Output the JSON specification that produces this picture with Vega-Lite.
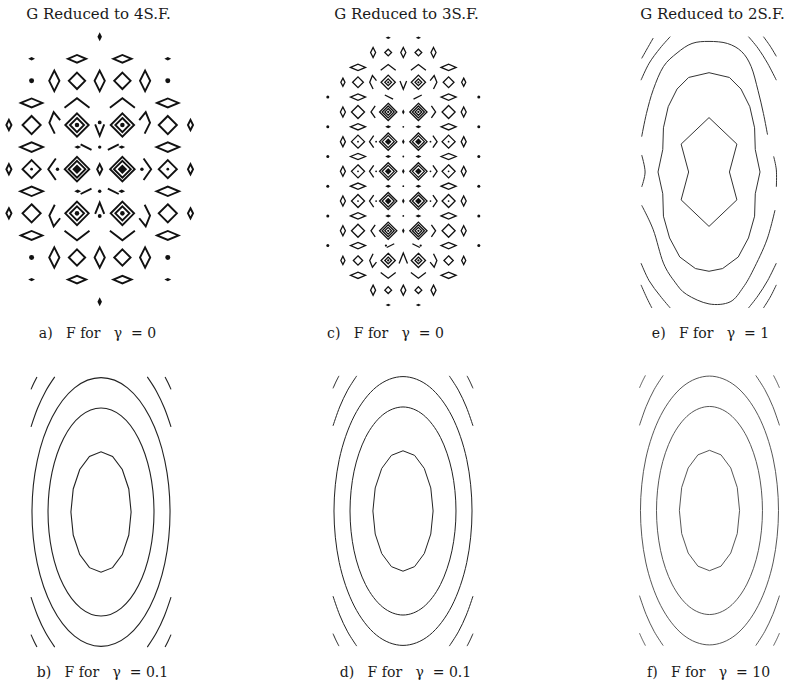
{
"$schema": "https://vega.github.io/schema/vega-lite/v6.json",
"background": "white",
"padding": 0,
"config": {
  "view": {"stroke": null},
  "axis": {"domain": false, "ticks": false, "labels": false, "grid": false, "titleFont": "DejaVu Serif", "titleFontSize": 14, "titleFontWeight": "normal", "titleColor": "#1a1a1a", "titleBaseline": "alphabetic", "titleAlign": "center"},
  "title": {"font": "DejaVu Serif", "fontSize": 15, "fontWeight": "normal", "color": "#1a1a1a"}
},
"datasets": {
"gA": [
{"x":0,"y":6,"k":"fT","s":0.4},
{"x":-3,"y":5,"k":"fW","s":0.3},{"x":-1,"y":5,"k":"W","s":0.8},{"x":1,"y":5,"k":"W","s":0.8},{"x":3,"y":5,"k":"fW","s":0.3},
{"x":-3,"y":4,"k":"fC","s":0.22},{"x":-2,"y":4,"k":"T","s":0.9},{"x":-1,"y":4,"k":"D","s":0.72},{"x":0,"y":4,"k":"T","s":0.9},{"x":1,"y":4,"k":"D","s":0.72},{"x":2,"y":4,"k":"T","s":0.9},{"x":3,"y":4,"k":"fC","s":0.22},
{"x":-3,"y":3,"k":"W","s":0.95},{"x":-1,"y":3,"k":"up","s":1.1},{"x":1,"y":3,"k":"up","s":1.1},{"x":3,"y":3,"k":"W","s":0.95},
{"x":-4,"y":2,"k":"T","s":0.45},{"x":-3,"y":2,"k":"D","s":0.8},{"x":-1.98,"y":2.1,"k":"ltU","s":0.95},{"x":-1,"y":2,"k":"D","s":1.03},{"x":-1,"y":2,"k":"D","s":0.62},{"x":-1,"y":2,"k":"fC","s":0.2},{"x":0,"y":1.77,"k":"V","s":0.5},{"x":0,"y":2.12,"k":"fC","s":0.17},{"x":1,"y":2,"k":"D","s":1.03},{"x":1,"y":2,"k":"D","s":0.62},{"x":1,"y":2,"k":"fC","s":0.2},{"x":1.98,"y":2.1,"k":"gtU","s":0.95},{"x":3,"y":2,"k":"D","s":0.8},{"x":4,"y":2,"k":"T","s":0.45},
{"x":-3,"y":1,"k":"W","s":1.0},{"x":-0.97,"y":1,"k":"fW","s":0.3},{"x":-0.6,"y":1,"k":"bs","s":0.48},{"x":0,"y":1,"k":"fC","s":0.15},{"x":0.6,"y":1,"k":"sl","s":0.48},{"x":0.97,"y":1,"k":"fW","s":0.3},{"x":3,"y":1,"k":"W","s":1.0},
{"x":-4,"y":0,"k":"T","s":0.45},{"x":-3,"y":0,"k":"D","s":0.8},{"x":-3,"y":0,"k":"fC","s":0.12},{"x":-2.1,"y":0,"k":"lt","s":0.95},{"x":-1.86,"y":0,"k":"fC","s":0.15},{"x":-1,"y":0,"k":"D","s":1.08},{"x":-1,"y":0,"k":"D","s":0.74},{"x":-1,"y":0,"k":"fD","s":0.42},{"x":0,"y":0,"k":"T","s":0.45},{"x":1,"y":0,"k":"D","s":1.08},{"x":1,"y":0,"k":"D","s":0.74},{"x":1,"y":0,"k":"fD","s":0.42},{"x":1.86,"y":0,"k":"fC","s":0.15},{"x":2.1,"y":0,"k":"gt","s":0.95},{"x":3,"y":0,"k":"D","s":0.8},{"x":3,"y":0,"k":"fC","s":0.12},{"x":4,"y":0,"k":"T","s":0.45},
{"x":-3,"y":-1,"k":"W","s":1.0},{"x":-0.97,"y":-1,"k":"fW","s":0.3},{"x":-0.6,"y":-1,"k":"sl","s":0.48},{"x":0,"y":-1,"k":"fC","s":0.15},{"x":0.6,"y":-1,"k":"bs","s":0.48},{"x":0.97,"y":-1,"k":"fW","s":0.3},{"x":3,"y":-1,"k":"W","s":1.0},
{"x":-4,"y":-2,"k":"T","s":0.45},{"x":-3,"y":-2,"k":"D","s":0.8},{"x":-1.98,"y":-2.1,"k":"ltD","s":0.95},{"x":-1,"y":-2,"k":"D","s":1.03},{"x":-1,"y":-2,"k":"D","s":0.62},{"x":-1,"y":-2,"k":"fC","s":0.2},{"x":0,"y":-1.77,"k":"A","s":0.5},{"x":0,"y":-2.12,"k":"fC","s":0.17},{"x":1,"y":-2,"k":"D","s":1.03},{"x":1,"y":-2,"k":"D","s":0.62},{"x":1,"y":-2,"k":"fC","s":0.2},{"x":1.98,"y":-2.1,"k":"gtD","s":0.95},{"x":3,"y":-2,"k":"D","s":0.8},{"x":4,"y":-2,"k":"T","s":0.45},
{"x":-3,"y":-3,"k":"W","s":0.95},{"x":-1,"y":-3,"k":"down","s":1.1},{"x":1,"y":-3,"k":"down","s":1.1},{"x":3,"y":-3,"k":"W","s":0.95},
{"x":-3,"y":-4,"k":"fC","s":0.22},{"x":-2,"y":-4,"k":"T","s":0.9},{"x":-1,"y":-4,"k":"D","s":0.72},{"x":0,"y":-4,"k":"T","s":0.9},{"x":1,"y":-4,"k":"D","s":0.72},{"x":2,"y":-4,"k":"T","s":0.9},{"x":3,"y":-4,"k":"fC","s":0.22},
{"x":-3,"y":-5,"k":"fW","s":0.3},{"x":-1,"y":-5,"k":"W","s":0.8},{"x":1,"y":-5,"k":"W","s":0.8},{"x":3,"y":-5,"k":"fW","s":0.3},
{"x":0,"y":-6,"k":"fT","s":0.4}
],
"gC": [
{"x":-1,"y":9,"k":"fW","s":0.35},{"x":1,"y":9,"k":"fW","s":0.35},
{"x":-2,"y":8,"k":"T","s":0.67},{"x":-1,"y":8,"k":"D","s":0.45},{"x":0,"y":8,"k":"T","s":0.67},{"x":1,"y":8,"k":"D","s":0.45},{"x":2,"y":8,"k":"T","s":0.67},
{"x":-3,"y":7,"k":"W","s":1.0},{"x":-1,"y":7,"k":"up","s":1.0},{"x":1,"y":7,"k":"up","s":1.0},{"x":3,"y":7,"k":"W","s":1.0},
{"x":-4,"y":6,"k":"T","s":0.55},{"x":-3,"y":6,"k":"D","s":0.72},{"x":-2,"y":6,"k":"ltU","s":0.9},{"x":-1,"y":6,"k":"D","s":0.95},{"x":-1,"y":6,"k":"D","s":0.45},{"x":-1,"y":6,"k":"fC","s":0.15},{"x":0,"y":5.8,"k":"V","s":0.55},{"x":1,"y":6,"k":"D","s":0.95},{"x":1,"y":6,"k":"D","s":0.45},{"x":1,"y":6,"k":"fC","s":0.15},{"x":2,"y":6,"k":"gtU","s":0.9},{"x":3,"y":6,"k":"D","s":0.72},{"x":4,"y":6,"k":"T","s":0.55},
{"x":-5,"y":5,"k":"fC","s":0.2},{"x":-3,"y":5,"k":"W","s":1.0},{"x":-0.95,"y":5,"k":"bs","s":0.55},{"x":0.95,"y":5,"k":"sl","s":0.55},{"x":3,"y":5,"k":"W","s":1.0},{"x":5,"y":5,"k":"fC","s":0.2},
{"x":-4,"y":4,"k":"T","s":0.67},{"x":-3,"y":4,"k":"D","s":0.87},{"x":-2,"y":4,"k":"lt","s":0.8},{"x":-1,"y":4,"k":"D","s":1.15},{"x":-1,"y":4,"k":"D","s":0.8},{"x":-1,"y":4,"k":"D","s":0.45},{"x":-1,"y":4,"k":"fC","s":0.15},{"x":0,"y":4,"k":"fT","s":0.35},{"x":1,"y":4,"k":"D","s":1.15},{"x":1,"y":4,"k":"D","s":0.8},{"x":1,"y":4,"k":"D","s":0.45},{"x":1,"y":4,"k":"fC","s":0.15},{"x":2,"y":4,"k":"gt","s":0.8},{"x":3,"y":4,"k":"D","s":0.87},{"x":4,"y":4,"k":"T","s":0.67},
{"x":-5,"y":3,"k":"fC","s":0.2},{"x":-3,"y":3,"k":"W","s":1.0},{"x":-1,"y":3,"k":"fW","s":0.4},{"x":0,"y":3,"k":"fC","s":0.12},{"x":1,"y":3,"k":"fW","s":0.4},{"x":3,"y":3,"k":"W","s":1.0},{"x":5,"y":3,"k":"fC","s":0.2},
{"x":-4,"y":2,"k":"T","s":0.67},{"x":-3,"y":2,"k":"D","s":0.87},{"x":-3,"y":2,"k":"fC","s":0.12},{"x":-2.1,"y":2,"k":"lt","s":0.8},{"x":-1.8,"y":2,"k":"fC","s":0.12},{"x":-1,"y":2,"k":"D","s":1.15},{"x":-1,"y":2,"k":"D","s":0.8},{"x":-1,"y":2,"k":"fD","s":0.45},{"x":0,"y":2,"k":"fT","s":0.35},{"x":1,"y":2,"k":"D","s":1.15},{"x":1,"y":2,"k":"D","s":0.8},{"x":1,"y":2,"k":"fD","s":0.45},{"x":1.8,"y":2,"k":"fC","s":0.12},{"x":2.1,"y":2,"k":"gt","s":0.8},{"x":3,"y":2,"k":"D","s":0.87},{"x":3,"y":2,"k":"fC","s":0.12},{"x":4,"y":2,"k":"T","s":0.67},
{"x":-5,"y":1,"k":"fC","s":0.2},{"x":-3,"y":1,"k":"W","s":1.0},{"x":-1,"y":1,"k":"fW","s":0.4},{"x":0,"y":1,"k":"fC","s":0.12},{"x":1,"y":1,"k":"fW","s":0.4},{"x":3,"y":1,"k":"W","s":1.0},{"x":5,"y":1,"k":"fC","s":0.2},
{"x":-4,"y":0,"k":"T","s":0.67},{"x":-3,"y":0,"k":"D","s":0.87},{"x":-3,"y":0,"k":"fC","s":0.12},{"x":-2.1,"y":0,"k":"lt","s":0.8},{"x":-1.8,"y":0,"k":"fC","s":0.12},{"x":-1,"y":0,"k":"D","s":1.15},{"x":-1,"y":0,"k":"D","s":0.8},{"x":-1,"y":0,"k":"fD","s":0.45},{"x":0,"y":0,"k":"fT","s":0.35},{"x":1,"y":0,"k":"D","s":1.15},{"x":1,"y":0,"k":"D","s":0.8},{"x":1,"y":0,"k":"fD","s":0.45},{"x":1.8,"y":0,"k":"fC","s":0.12},{"x":2.1,"y":0,"k":"gt","s":0.8},{"x":3,"y":0,"k":"D","s":0.87},{"x":3,"y":0,"k":"fC","s":0.12},{"x":4,"y":0,"k":"T","s":0.67},
{"x":-5,"y":-1,"k":"fC","s":0.2},{"x":-3,"y":-1,"k":"W","s":1.0},{"x":-1,"y":-1,"k":"fW","s":0.4},{"x":0,"y":-1,"k":"fC","s":0.12},{"x":1,"y":-1,"k":"fW","s":0.4},{"x":3,"y":-1,"k":"W","s":1.0},{"x":5,"y":-1,"k":"fC","s":0.2},
{"x":-4,"y":-2,"k":"T","s":0.67},{"x":-3,"y":-2,"k":"D","s":0.87},{"x":-3,"y":-2,"k":"fC","s":0.12},{"x":-2.1,"y":-2,"k":"lt","s":0.8},{"x":-1.8,"y":-2,"k":"fC","s":0.12},{"x":-1,"y":-2,"k":"D","s":1.15},{"x":-1,"y":-2,"k":"D","s":0.8},{"x":-1,"y":-2,"k":"fD","s":0.45},{"x":0,"y":-2,"k":"fT","s":0.35},{"x":1,"y":-2,"k":"D","s":1.15},{"x":1,"y":-2,"k":"D","s":0.8},{"x":1,"y":-2,"k":"fD","s":0.45},{"x":1.8,"y":-2,"k":"fC","s":0.12},{"x":2.1,"y":-2,"k":"gt","s":0.8},{"x":3,"y":-2,"k":"D","s":0.87},{"x":3,"y":-2,"k":"fC","s":0.12},{"x":4,"y":-2,"k":"T","s":0.67},
{"x":-5,"y":-3,"k":"fC","s":0.2},{"x":-3,"y":-3,"k":"W","s":1.0},{"x":-1,"y":-3,"k":"fW","s":0.4},{"x":0,"y":-3,"k":"fC","s":0.12},{"x":1,"y":-3,"k":"fW","s":0.4},{"x":3,"y":-3,"k":"W","s":1.0},{"x":5,"y":-3,"k":"fC","s":0.2},
{"x":-4,"y":-4,"k":"T","s":0.67},{"x":-3,"y":-4,"k":"D","s":0.87},{"x":-2,"y":-4,"k":"lt","s":0.8},{"x":-1,"y":-4,"k":"D","s":1.15},{"x":-1,"y":-4,"k":"D","s":0.8},{"x":-1,"y":-4,"k":"D","s":0.45},{"x":-1,"y":-4,"k":"fC","s":0.15},{"x":0,"y":-4,"k":"fT","s":0.35},{"x":1,"y":-4,"k":"D","s":1.15},{"x":1,"y":-4,"k":"D","s":0.8},{"x":1,"y":-4,"k":"D","s":0.45},{"x":1,"y":-4,"k":"fC","s":0.15},{"x":2,"y":-4,"k":"gt","s":0.8},{"x":3,"y":-4,"k":"D","s":0.87},{"x":4,"y":-4,"k":"T","s":0.67},
{"x":-5,"y":-5,"k":"fC","s":0.2},{"x":-3,"y":-5,"k":"W","s":1.0},{"x":-1.15,"y":-5,"k":"fC","s":0.15},{"x":-0.85,"y":-5,"k":"sl","s":0.5},{"x":0.85,"y":-5,"k":"bs","s":0.5},{"x":1.15,"y":-5,"k":"fC","s":0.15},{"x":3,"y":-5,"k":"W","s":1.0},{"x":5,"y":-5,"k":"fC","s":0.2},
{"x":-4,"y":-6,"k":"T","s":0.55},{"x":-3,"y":-6,"k":"D","s":0.62},{"x":-2,"y":-6,"k":"ltD","s":0.9},{"x":-1,"y":-6,"k":"D","s":0.95},{"x":-1,"y":-6,"k":"D","s":0.45},{"x":-1,"y":-6,"k":"fC","s":0.15},{"x":0,"y":-5.85,"k":"A","s":0.7},{"x":1,"y":-6,"k":"D","s":0.95},{"x":1,"y":-6,"k":"D","s":0.45},{"x":1,"y":-6,"k":"fC","s":0.15},{"x":2,"y":-6,"k":"gtD","s":0.9},{"x":3,"y":-6,"k":"D","s":0.62},{"x":4,"y":-6,"k":"T","s":0.55},
{"x":-3,"y":-7,"k":"W","s":1.0},{"x":-1,"y":-7,"k":"down","s":1.0},{"x":1,"y":-7,"k":"down","s":1.0},{"x":3,"y":-7,"k":"W","s":1.0},
{"x":-2,"y":-8,"k":"T","s":0.67},{"x":-1,"y":-8,"k":"D","s":0.45},{"x":0,"y":-8,"k":"T","s":0.67},{"x":1,"y":-8,"k":"D","s":0.45},{"x":2,"y":-8,"k":"T","s":0.67},
{"x":-1,"y":-9,"k":"fW","s":0.35},{"x":1,"y":-9,"k":"fW","s":0.35}
],
"ell": [
{"c":"E1","o":0,"x":0.43,"y":0},{"c":"E1","o":1,"x":0.397,"y":0.329},{"c":"E1","o":2,"x":0.304,"y":0.608},{"c":"E1","o":3,"x":0.165,"y":0.795},{"c":"E1","o":4,"x":0,"y":0.86},{"c":"E1","o":5,"x":-0.165,"y":0.795},{"c":"E1","o":6,"x":-0.304,"y":0.608},{"c":"E1","o":7,"x":-0.397,"y":0.329},{"c":"E1","o":8,"x":-0.43,"y":0},{"c":"E1","o":9,"x":-0.397,"y":-0.329},{"c":"E1","o":10,"x":-0.304,"y":-0.608},{"c":"E1","o":11,"x":-0.165,"y":-0.795},{"c":"E1","o":12,"x":0,"y":-0.86},{"c":"E1","o":13,"x":0.165,"y":-0.795},{"c":"E1","o":14,"x":0.304,"y":-0.608},{"c":"E1","o":15,"x":0.397,"y":-0.329},
{"c":"E2","o":0,"x":0.757,"y":0},{"c":"E2","o":1,"x":0.699,"y":0.569},{"c":"E2","o":2,"x":0.535,"y":1.051},{"c":"E2","o":3,"x":0.29,"y":1.373},{"c":"E2","o":4,"x":0,"y":1.486},{"c":"E2","o":5,"x":-0.29,"y":1.373},{"c":"E2","o":6,"x":-0.535,"y":1.051},{"c":"E2","o":7,"x":-0.699,"y":0.569},{"c":"E2","o":8,"x":-0.757,"y":0},{"c":"E2","o":9,"x":-0.699,"y":-0.569},{"c":"E2","o":10,"x":-0.535,"y":-1.051},{"c":"E2","o":11,"x":-0.29,"y":-1.373},{"c":"E2","o":12,"x":0,"y":-1.486},{"c":"E2","o":13,"x":0.29,"y":-1.373},{"c":"E2","o":14,"x":0.535,"y":-1.051},{"c":"E2","o":15,"x":0.699,"y":-0.569},
{"c":"E3","o":0,"x":0.986,"y":0},{"c":"E3","o":1,"x":0.911,"y":0.735},{"c":"E3","o":2,"x":0.697,"y":1.357},{"c":"E3","o":3,"x":0.378,"y":1.774},{"c":"E3","o":4,"x":0,"y":1.92},{"c":"E3","o":5,"x":-0.378,"y":1.774},{"c":"E3","o":6,"x":-0.697,"y":1.357},{"c":"E3","o":7,"x":-0.911,"y":0.735},{"c":"E3","o":8,"x":-0.986,"y":0},{"c":"E3","o":9,"x":-0.911,"y":-0.735},{"c":"E3","o":10,"x":-0.697,"y":-1.357},{"c":"E3","o":11,"x":-0.378,"y":-1.774},{"c":"E3","o":12,"x":0,"y":-1.92},{"c":"E3","o":13,"x":0.378,"y":-1.774},{"c":"E3","o":14,"x":0.697,"y":-1.357},{"c":"E3","o":15,"x":0.911,"y":-0.735},
{"c":"P1","o":0,"x":0.661,"y":1.93},{"c":"P1","o":1,"x":0.791,"y":1.726},{"c":"P1","o":2,"x":0.905,"y":1.485},{"c":"P1","o":3,"x":1,"y":1.216},
{"c":"P2","o":0,"x":0.915,"y":1.93},{"c":"P2","o":1,"x":0.959,"y":1.843},{"c":"P2","o":2,"x":1,"y":1.752},
{"c":"P3","o":0,"x":-0.661,"y":1.93},{"c":"P3","o":1,"x":-0.791,"y":1.726},{"c":"P3","o":2,"x":-0.905,"y":1.485},{"c":"P3","o":3,"x":-1,"y":1.216},
{"c":"P4","o":0,"x":-0.915,"y":1.93},{"c":"P4","o":1,"x":-0.959,"y":1.843},{"c":"P4","o":2,"x":-1,"y":1.752},
{"c":"P5","o":0,"x":0.661,"y":-1.93},{"c":"P5","o":1,"x":0.791,"y":-1.726},{"c":"P5","o":2,"x":0.905,"y":-1.485},{"c":"P5","o":3,"x":1,"y":-1.216},
{"c":"P6","o":0,"x":0.915,"y":-1.93},{"c":"P6","o":1,"x":0.959,"y":-1.843},{"c":"P6","o":2,"x":1,"y":-1.752},
{"c":"P7","o":0,"x":-0.661,"y":-1.93},{"c":"P7","o":1,"x":-0.791,"y":-1.726},{"c":"P7","o":2,"x":-0.905,"y":-1.485},{"c":"P7","o":3,"x":-1,"y":-1.216},
{"c":"P8","o":0,"x":-0.915,"y":-1.93},{"c":"P8","o":1,"x":-0.959,"y":-1.843},{"c":"P8","o":2,"x":-1,"y":-1.752}
],
"ctE": [
{"c":"I","o":0,"x":0,"y":0.8},{"c":"I","o":1,"x":0.41,"y":0.41},{"c":"I","o":2,"x":0.3,"y":0},{"c":"I","o":3,"x":0.41,"y":-0.41},{"c":"I","o":4,"x":0,"y":-0.8},{"c":"I","o":5,"x":-0.41,"y":-0.41},{"c":"I","o":6,"x":-0.3,"y":0},{"c":"I","o":7,"x":-0.41,"y":0.41},
{"c":"M","o":0,"x":0,"y":1.46},{"c":"M","o":1,"x":0.3,"y":1.39},{"c":"M","o":2,"x":0.47,"y":1.22},{"c":"M","o":3,"x":0.6,"y":0.96},{"c":"M","o":4,"x":0.67,"y":0.65},{"c":"M","o":5,"x":0.68,"y":0.33},{"c":"M","o":6,"x":0.75,"y":0},{"c":"M","o":7,"x":0.68,"y":-0.32},{"c":"M","o":8,"x":0.67,"y":-0.65},{"c":"M","o":9,"x":0.58,"y":-0.97},{"c":"M","o":10,"x":0.43,"y":-1.25},{"c":"M","o":11,"x":0.2,"y":-1.42},{"c":"M","o":12,"x":0,"y":-1.46},{"c":"M","o":13,"x":-0.2,"y":-1.42},{"c":"M","o":14,"x":-0.43,"y":-1.25},{"c":"M","o":15,"x":-0.58,"y":-0.97},{"c":"M","o":16,"x":-0.67,"y":-0.65},{"c":"M","o":17,"x":-0.68,"y":-0.32},{"c":"M","o":18,"x":-0.75,"y":0},{"c":"M","o":19,"x":-0.68,"y":0.33},{"c":"M","o":20,"x":-0.67,"y":0.65},{"c":"M","o":21,"x":-0.6,"y":0.96},{"c":"M","o":22,"x":-0.47,"y":1.22},{"c":"M","o":23,"x":-0.3,"y":1.39},
{"c":"O1","o":0,"x":-0.99,"y":0.52},{"c":"O1","o":1,"x":-0.92,"y":0.86},{"c":"O1","o":2,"x":-0.82,"y":1.21},{"c":"O1","o":3,"x":-0.67,"y":1.55},{"c":"O1","o":4,"x":-0.47,"y":1.75},{"c":"O1","o":5,"x":-0.25,"y":1.89},{"c":"O1","o":6,"x":0,"y":1.92},{"c":"O1","o":7,"x":0.27,"y":1.89},{"c":"O1","o":8,"x":0.48,"y":1.77},{"c":"O1","o":9,"x":0.62,"y":1.55},{"c":"O1","o":10,"x":0.72,"y":1.2},{"c":"O1","o":11,"x":0.8,"y":0.86},{"c":"O1","o":12,"x":0.86,"y":0.55},
{"c":"O2","o":0,"x":-0.99,"y":-0.49},{"c":"O2","o":1,"x":-0.82,"y":-0.85},{"c":"O2","o":2,"x":-0.67,"y":-1.34},{"c":"O2","o":3,"x":-0.5,"y":-1.62},{"c":"O2","o":4,"x":-0.33,"y":-1.8},{"c":"O2","o":5,"x":0,"y":-1.94},{"c":"O2","o":6,"x":0.31,"y":-1.91},{"c":"O2","o":7,"x":0.5,"y":-1.7},{"c":"O2","o":8,"x":0.65,"y":-1.44},{"c":"O2","o":9,"x":0.85,"y":-1.0},{"c":"O2","o":10,"x":0.97,"y":-0.56},
{"c":"O3","o":0,"x":-0.99,"y":0.25},{"c":"O3","o":1,"x":-0.94,"y":0},{"c":"O3","o":2,"x":-0.99,"y":-0.22},
{"c":"O4","o":0,"x":0.95,"y":0.23},{"c":"O4","o":1,"x":0.99,"y":0.03},{"c":"O4","o":2,"x":0.99,"y":-0.22},
{"c":"C1","o":0,"x":-1.0,"y":1.35},{"c":"C1","o":1,"x":-0.88,"y":1.6},{"c":"C1","o":2,"x":-0.72,"y":1.82},{"c":"C1","o":3,"x":-0.57,"y":1.99},
{"c":"C2","o":0,"x":-0.99,"y":1.67},{"c":"C2","o":1,"x":-0.9,"y":1.83},{"c":"C2","o":2,"x":-0.82,"y":1.97},
{"c":"C3","o":0,"x":0.58,"y":1.99},{"c":"C3","o":1,"x":0.72,"y":1.82},{"c":"C3","o":2,"x":0.86,"y":1.6},{"c":"C3","o":3,"x":0.99,"y":1.35},
{"c":"C4","o":0,"x":0.8,"y":1.99},{"c":"C4","o":1,"x":0.9,"y":1.85},{"c":"C4","o":2,"x":0.99,"y":1.7},
{"c":"C5","o":0,"x":-1.0,"y":-1.34},{"c":"C5","o":1,"x":-0.88,"y":-1.6},{"c":"C5","o":2,"x":-0.72,"y":-1.82},{"c":"C5","o":3,"x":-0.57,"y":-2.0},
{"c":"C6","o":0,"x":-1.0,"y":-1.66},{"c":"C6","o":1,"x":-0.92,"y":-1.84},{"c":"C6","o":2,"x":-0.84,"y":-2.0},
{"c":"C7","o":0,"x":0.99,"y":-1.34},{"c":"C7","o":1,"x":0.86,"y":-1.6},{"c":"C7","o":2,"x":0.72,"y":-1.82},{"c":"C7","o":3,"x":0.58,"y":-2.0},
{"c":"C8","o":0,"x":0.99,"y":-1.66},{"c":"C8","o":1,"x":0.9,"y":-1.84},{"c":"C8","o":2,"x":0.8,"y":-2.0}
]
},
"columns": 3,
"spacing": 0,
"bounds": "flush",
"resolve": {"scale": {"size": "independent"}},
"concat": [
  {"width": 263, "height": 335, "data": {"name": "gA"},
   "title": {"text": "G Reduced to 4S.F.", "orient": "top", "anchor": "middle", "frame": "group", "offset": 0, "dx": -33, "dy": 33.5, "baseline": "alphabetic"},
   "encoding": {
     "x": {"field": "x", "type": "quantitative", "scale": {"domain": [-4.392, 7.194], "nice": false, "zero": false}, "axis": {"title": "a)\u00a0\u00a0 F for\u00a0\u00a0 γ\u00a0 = 0", "titleX": 97, "titleY": 2}},
     "y": {"field": "y", "type": "quantitative", "scale": {"domain": [-7.508, 7.662], "nice": false, "zero": false}, "axis": null},
     "shape": {"field": "k", "type": "nominal", "legend": null, "scale": {"domain": ["D","T","W","up","down","V","A","lt","gt","ltU","ltD","gtU","gtD","bs","sl","fC","fD","fT","fW"], "range": ["M0,-1L1,0L0,1L-1,0Z","M0,-1L0.5,0L0,1L-0.5,0Z","M-1,0L0,-0.42L1,0L0,0.42Z","M-1,0.38L0,-0.38L1,0.38","M-1,-0.38L0,0.38L1,-0.38","M-0.8,-1L0,1L0.8,-1","M-0.8,1L0,-1L0.8,1","M0.35,-1L-0.35,0L0.35,1","M-0.35,-1L0.35,0L-0.35,1","M0,1L-0.5,0L-0.1,-1L0.5,-0.25","M0,-1L-0.5,0L-0.1,1L0.5,0.25","M0,1L0.5,0L0.1,-1L-0.5,-0.25","M0,-1L0.5,0L0.1,1L-0.5,0.25","M-1,-0.5L1,0.5","M-1,0.5L1,-0.5","circle","M0,-1L1,0L0,1L-1,0Z","M0,-1L0.5,0L0,1L-0.5,0Z","M-1,0L0,-0.5L1,0L0,0.5Z"]}},
     "size": {"field": "s", "type": "quantitative", "legend": null, "scale": {"type": "pow", "exponent": 2, "domain": [0, 1], "range": [0, 515]}}
   },
   "layer": [
     {"transform": [{"filter": "substring(datum.k,0,1)!='f'"}], "mark": {"type": "point", "filled": false, "opacity": 1, "color": "#111", "strokeWidth": 1.9}},
     {"transform": [{"filter": "substring(datum.k,0,1)=='f'"}], "mark": {"type": "point", "filled": true, "opacity": 1, "color": "#111"}}
   ]},
  {"width": 263, "height": 335, "data": {"name": "gC"},
   "title": {"text": "G Reduced to 3S.F.", "orient": "top", "anchor": "middle", "frame": "group", "offset": 0, "dx": 12, "dy": 33.5, "baseline": "alphabetic"},
   "encoding": {
     "x": {"field": "x", "type": "quantitative", "scale": {"domain": [-9.291, 8.126], "nice": false, "zero": false}, "axis": {"title": "c)\u00a0\u00a0 F for\u00a0\u00a0 γ\u00a0 = 0", "titleX": 122, "titleY": 2}},
     "y": {"field": "y", "type": "quantitative", "scale": {"domain": [-11.02, 11.539], "nice": false, "zero": false}, "axis": null},
     "shape": {"field": "k", "type": "nominal", "legend": null, "scale": {"domain": ["D","T","W","up","down","V","A","lt","gt","ltU","ltD","gtU","gtD","bs","sl","fC","fD","fT","fW"], "range": ["M0,-1L1,0L0,1L-1,0Z","M0,-1L0.5,0L0,1L-0.5,0Z","M-1,0L0,-0.42L1,0L0,0.42Z","M-1,0.38L0,-0.38L1,0.38","M-1,-0.38L0,0.38L1,-0.38","M-0.8,-1L0,1L0.8,-1","M-0.8,1L0,-1L0.8,1","M0.35,-1L-0.35,0L0.35,1","M-0.35,-1L0.35,0L-0.35,1","M0,1L-0.5,0L-0.1,-1L0.5,-0.25","M0,-1L-0.5,0L-0.1,1L0.5,0.25","M0,1L0.5,0L0.1,-1L-0.5,-0.25","M0,-1L0.5,0L0.1,1L-0.5,0.25","M-1,-0.5L1,0.5","M-1,0.5L1,-0.5","circle","M0,-1L1,0L0,1L-1,0Z","M0,-1L0.5,0L0,1L-0.5,0Z","M-1,0L0,-0.5L1,0L0,0.5Z"]}},
     "size": {"field": "s", "type": "quantitative", "legend": null, "scale": {"type": "pow", "exponent": 2, "domain": [0, 1], "range": [0, 225]}}
   },
   "layer": [
     {"transform": [{"filter": "substring(datum.k,0,1)!='f'"}], "mark": {"type": "point", "filled": false, "opacity": 1, "color": "#111", "strokeWidth": 1.3}},
     {"transform": [{"filter": "substring(datum.k,0,1)=='f'"}], "mark": {"type": "point", "filled": true, "opacity": 1, "color": "#111"}}
   ]},
  {"width": 263, "height": 335, "data": {"name": "ctE"},
   "title": {"text": "G Reduced to 2S.F.", "orient": "top", "anchor": "middle", "frame": "group", "offset": 0, "dx": 55, "dy": 33.5, "baseline": "alphabetic"},
   "encoding": {
     "x": {"field": "x", "type": "quantitative", "scale": {"domain": [-2.691, 1.176], "nice": false, "zero": false}, "axis": {"title": "e)\u00a0\u00a0 F for\u00a0\u00a0 γ\u00a0 = 1", "titleX": 184, "titleY": 2}},
     "y": {"field": "y", "type": "quantitative", "scale": {"domain": [-2.397, 2.529], "nice": false, "zero": false}, "axis": null},
     "detail": {"field": "c"}, "order": {"field": "o"}
   },
   "layer": [
     {"transform": [{"filter": "datum.c=='I'||datum.c=='M'"}], "mark": {"type": "line", "interpolate": "linear-closed", "color": "#333", "strokeWidth": 1.0}},
     {"transform": [{"filter": "datum.c!='I'&&datum.c!='M'"}], "mark": {"type": "line", "interpolate": "cardinal", "color": "#333", "strokeWidth": 1.0}}
   ]},
  {"width": 263, "height": 355, "data": {"name": "ell"},
   "encoding": {
     "x": {"field": "x", "type": "quantitative", "scale": {"domain": [-1.443, 2.314], "nice": false, "zero": false}, "axis": {"title": "b)\u00a0\u00a0 F for\u00a0\u00a0 γ\u00a0 = 0.1", "titleX": 102, "titleY": -14}},
     "y": {"field": "y", "type": "quantitative", "scale": {"domain": [-2.543, 2.529], "nice": false, "zero": false}, "axis": null},
     "detail": {"field": "c"}, "order": {"field": "o"}
   },
   "layer": [
     {"transform": [{"filter": "datum.c=='E1'"}], "mark": {"type": "line", "interpolate": "linear-closed", "color": "#222", "strokeWidth": 1.1}},
     {"transform": [{"filter": "datum.c=='E2'||datum.c=='E3'"}], "mark": {"type": "line", "interpolate": "cardinal-closed", "color": "#222", "strokeWidth": 1.1}},
     {"transform": [{"filter": "substring(datum.c,0,1)=='P'"}], "mark": {"type": "line", "interpolate": "cardinal", "color": "#222", "strokeWidth": 1.1}}
   ]},
  {"width": 263, "height": 355, "data": {"name": "ell"},
   "encoding": {
     "x": {"field": "x", "type": "quantitative", "scale": {"domain": [-2.0, 1.757], "nice": false, "zero": false}, "axis": {"title": "d)\u00a0\u00a0 F for\u00a0\u00a0 γ\u00a0 = 0.1", "titleX": 142, "titleY": -14}},
     "y": {"field": "y", "type": "quantitative", "scale": {"domain": [-2.557, 2.514], "nice": false, "zero": false}, "axis": null},
     "detail": {"field": "c"}, "order": {"field": "o"}
   },
   "layer": [
     {"transform": [{"filter": "datum.c=='E1'"}], "mark": {"type": "line", "interpolate": "linear-closed", "color": "#222", "strokeWidth": 1.0}},
     {"transform": [{"filter": "datum.c=='E2'||datum.c=='E3'"}], "mark": {"type": "line", "interpolate": "cardinal-closed", "color": "#222", "strokeWidth": 1.0}},
     {"transform": [{"filter": "substring(datum.c,0,1)=='P'"}], "mark": {"type": "line", "interpolate": "cardinal", "color": "#222", "strokeWidth": 1.0}}
   ]},
  {"width": 263, "height": 355, "data": {"name": "ell"},
   "encoding": {
     "x": {"field": "x", "type": "quantitative", "scale": {"domain": [-2.621, 1.136], "nice": false, "zero": false}, "axis": {"title": "f)\u00a0\u00a0 F for\u00a0\u00a0 γ\u00a0 = 10", "titleX": 182, "titleY": -14}},
     "y": {"field": "y", "type": "quantitative", "scale": {"domain": [-2.564, 2.507], "nice": false, "zero": false}, "axis": null},
     "detail": {"field": "c"}, "order": {"field": "o"}
   },
   "layer": [
     {"transform": [{"filter": "datum.c=='E1'"}], "mark": {"type": "line", "interpolate": "linear-closed", "color": "#444", "strokeWidth": 0.9}},
     {"transform": [{"filter": "datum.c=='E2'||datum.c=='E3'"}], "mark": {"type": "line", "interpolate": "cardinal-closed", "color": "#444", "strokeWidth": 0.9}},
     {"transform": [{"filter": "substring(datum.c,0,1)=='P'"}], "mark": {"type": "line", "interpolate": "cardinal", "color": "#444", "strokeWidth": 0.9}}
   ]}
]
}
